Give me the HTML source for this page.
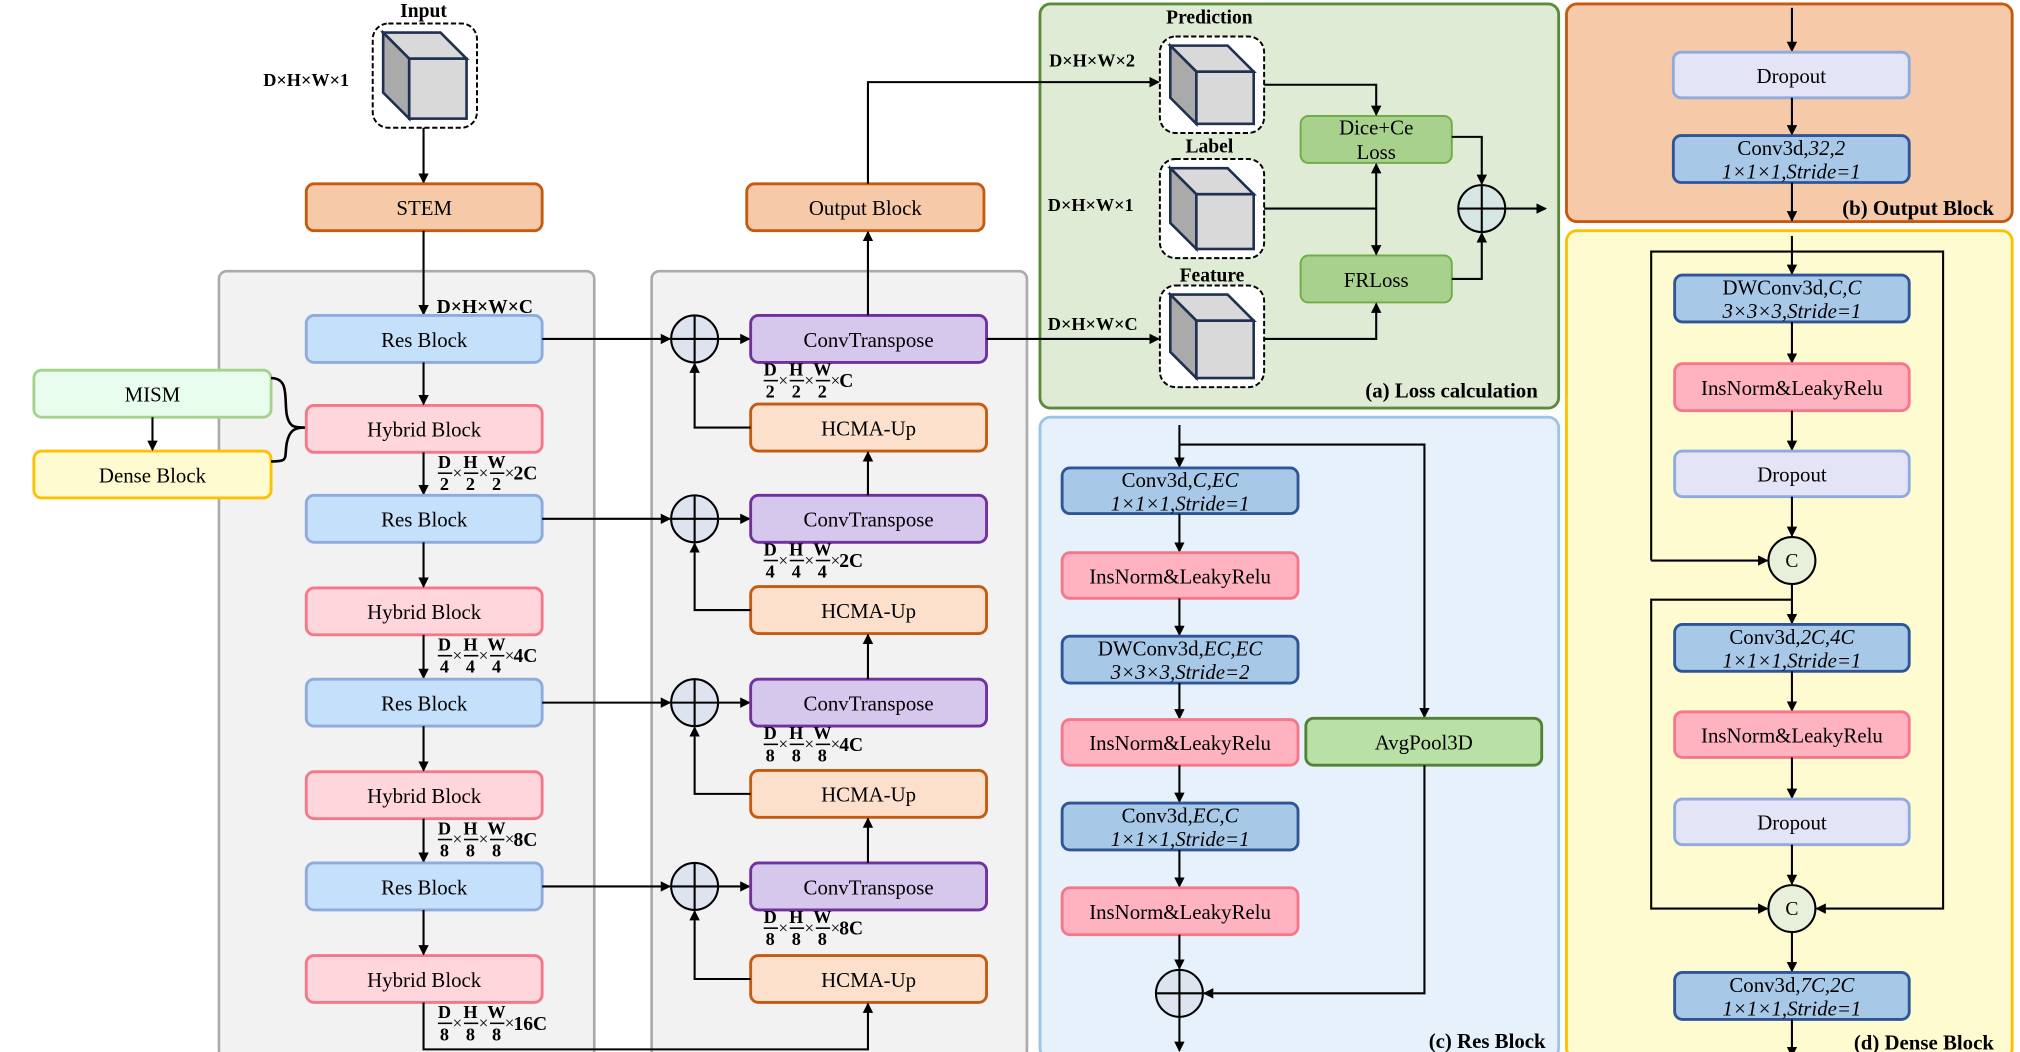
<!DOCTYPE html>
<html><head><meta charset="utf-8"><style>
html,body{margin:0;padding:0;background:#fff;}
svg{display:block;font-family:"Liberation Serif",serif;}
</style></head><body>
<svg id="s" width="2020" height="1052" viewBox="0 0 1550 807" preserveAspectRatio="none" xmlns="http://www.w3.org/2000/svg">
<defs><marker id="a" markerWidth="8" markerHeight="8" refX="7" refY="4" orient="auto" markerUnits="userSpaceOnUse"><path d="M0,0 L8,4 L0,8 z" fill="#000"/></marker></defs>
</svg>
<script>
var o='';
function box(x,y,w,h,f,s,t,t2,sw){o+=`<rect x="${x}" y="${y}" width="${w}" height="${h}" rx="6" fill="${f}" stroke="${s}" stroke-width="${sw||2.2}"/>`;
 if(t2){o+=`<text x="${x+w/2}" y="${y+h/2-3}" font-size="16" text-anchor="middle">${t}</text><text x="${x+w/2}" y="${y+h/2+15}" font-size="16" text-anchor="middle" font-style="italic">${t2}</text>`;}
 else if(t) o+=`<text x="${x+w/2}" y="${y+h/2+6}" font-size="16" text-anchor="middle">${t}</text>`;}
function ln(p,arr){o+=`<polyline points="${p}" fill="none" stroke="#000" stroke-width="1.6" ${arr?'marker-end="url(#a)"':''}/>`;}
function plus(x,y,r,f){o+=`<circle cx="${x}" cy="${y}" r="${r}" fill="${f||'#dde3ef'}" stroke="#000" stroke-width="1.6"/><line x1="${x-r}" y1="${y}" x2="${x+r}" y2="${y}" stroke="#000" stroke-width="1.6"/><line x1="${x}" y1="${y-r}" x2="${x}" y2="${y+r}" stroke="#000" stroke-width="1.6"/>`;}
function cc(x,y){o+=`<circle cx="${x}" cy="${y}" r="18" fill="#e8f0dc" stroke="#000" stroke-width="1.6"/><text x="${x}" y="${y+5}" font-size="15" text-anchor="middle">C</text>`;}
function cube(x,y,w,h){o+=`<rect x="${x}" y="${y}" width="${w}" height="${h}" rx="12" fill="#fff" stroke="#000" stroke-width="1.5" stroke-dasharray="4,2"/>`;
 var a=x+8,b=y+7,W=w-16,H=h-14;
 o+=`<polygon points="${a},${b} ${a+W-20},${b} ${a+W},${b+20} ${a+20},${b+20}" fill="#d9d9d9" stroke="#1f3050" stroke-width="2"/><polygon points="${a},${b} ${a+20},${b+20} ${a+20},${b+H} ${a},${b+H-20}" fill="#aaa" stroke="#1f3050" stroke-width="2"/><rect x="${a+20}" y="${b+20}" width="${W-20}" height="${H-20}" fill="#d9d9d9" stroke="#1f3050" stroke-width="2"/>`;}
function txt(x,y,t,sz,anc,extra){o+=`<text x="${x}" y="${y}" font-size="${sz||15}" font-weight="bold" text-anchor="${anc||'start'}" ${extra||''}>${t}</text>`;}
function frac(x,y,d,last){var xs=x;['D','H','W'].forEach(function(c,i){o+=`<text x="${xs+5}" y="${y-4}" font-size="14" font-weight="bold" text-anchor="middle">${c}</text><line x1="${xs}" y1="${y}" x2="${xs+11}" y2="${y}" stroke="#000" stroke-width="1.2"/><text x="${xs+5}" y="${y+13}" font-size="14" font-weight="bold" text-anchor="middle">${d}</text>`;xs+=12;o+=`<text x="${xs+3}" y="${y+4}" font-size="13" text-anchor="middle">×</text>`;xs+=8;});o+=`<text x="${xs-2}" y="${y+5}" font-size="15" font-weight="bold">${last}</text>`;}
o+=`<rect x="168" y="208" width="288" height="604" rx="6" fill="#f2f2f2" stroke="#aaa" stroke-width="2"/>`;
o+=`<rect x="500" y="208" width="288" height="604" rx="6" fill="#f2f2f2" stroke="#aaa" stroke-width="2"/>`;
o+=`<rect x="798" y="3" width="398" height="310" rx="8" fill="#dfebd4" stroke="#5b8a3a" stroke-width="2.2"/>`;
o+=`<rect x="798" y="320" width="398" height="492" rx="8" fill="#e6f1fc" stroke="#9dc3e6" stroke-width="2.2"/>`;
o+=`<rect x="1202" y="3" width="342" height="167" rx="8" fill="#f6c9a9" stroke="#c55a11" stroke-width="2.2"/>`;
o+=`<rect x="1202" y="177" width="342" height="635" rx="8" fill="#fefbd0" stroke="#ffc000" stroke-width="2.2"/>`;
txt(325,13,'Input',15,'middle');cube(286,18,80,80);txt(202,66,'D×H×W×1',14);
ln('325,98 325,140',1);
box(235,141,181,36,'#f6c9a9','#c55a11','STEM');
box(573,141,182,36,'#f6c9a9','#c55a11','Output Block');
ln('325,177 325,241',1);txt(335,240,'D×H×W×C',15);
var ry=[242,380,521,662],hy=[311,451,592,733],py=[260,398,539,680],hc=[310,450,591,733];
var fr=[['2','2C'],['4','4C'],['8','8C'],['8','16C']],fr2=[['2','C'],['4','2C'],['8','4C'],['8','8C']];
for(var i=0;i<4;i++){
 box(235,ry[i],181,36,'#c5e0fa','#8faadc','Res Block');
 box(235,hy[i],181,36,'#ffd6dc','#f4778a','Hybrid Block');
 ln(`325,${ry[i]+36} 325,${hy[i]-1}`,1);
 if(i<3)ln(`325,${hy[i]+36} 325,${ry[i+1]-1}`,1);
 frac(336,hy[i]+52,fr[i][0],fr[i][1]);
 ln(`416,${ry[i]+18} 514,${py[i]}`,1);
 plus(533,py[i],18);
 ln(`551,${py[i]} 575,${py[i]}`,1);
 box(576,py[i]-18,181,36,'#d6c8ec','#7030a0','ConvTranspose');
 box(576,hc[i],181,36,'#fde0cc','#c55a11','HCMA-Up');
 ln(`576,${hc[i]+18} 533,${hc[i]+18} 533,${py[i]+19}`,1);
 frac(586,py[i]+32,fr2[i][0],fr2[i][1]);
 if(i>0)ln(`666,${py[i]-18} 666,${hc[i-1]+37}`,1);
}
ln('325,769 325,805 666,805 666,770',1);
ln('666,242 666,178',1);
ln('666,141 666,63 889,63',1);
ln('757,260 889,260',1);
box(26,284,182,36,'#e8fdee','#a9d18e','MISM');
box(26,346,182,36,'#fefbd0','#ffc000','Dense Block');
ln('117,320 117,345',1);
o+=`<path d="M208,290 C222,290 218,305 220,318 C222,328 226,328 234,328 C226,328 222,330 220,340 C218,352 222,354 208,354" fill="none" stroke="#000" stroke-width="2"/>`;
txt(928,18,'Prediction',15,'middle');cube(890,28,80,74);
txt(928,117,'Label',15,'middle');cube(890,122,80,76);
txt(930,216,'Feature',15,'middle');cube(890,219,80,78);
txt(805,51,'D×H×W×2',14);txt(804,162,'D×H×W×1',14);txt(804,253,'D×H×W×C',14);
box(998,89,116,36,'#a9d18e','#70ad47','','',1.5);
o+=`<text x="1056" y="103" font-size="16" text-anchor="middle">Dice+Ce</text><text x="1056" y="122" font-size="16" text-anchor="middle">Loss</text>`;
box(998,196,116,36,'#a9d18e','#70ad47','FRLoss','',1.5);
ln('970,65 1056,65 1056,88',1);
ln('970,160 1056,160',0);ln('1056,160 1056,126',1);ln('1056,160 1056,195',1);
ln('970,260 1056,260 1056,233',1);
ln('1114,105 1137,105 1137,141',1);ln('1114,214 1137,214 1137,179',1);
plus(1137,160,18,'#d6e6e4');
ln('1155,160 1186,160',1);
txt(1180,305,'(a) Loss calculation',16,'end');
ln('1375,6 1375,39',1);
box(1284,40,181,35,'#e4e4f7','#8faadc','Dropout');
ln('1375,75 1375,103',1);
box(1284,104,181,36,'#a8c8e8','#2f5597','Conv3d,<tspan font-style="italic">32,2</tspan>','1×1×1,Stride=1');
ln('1375,140 1375,169',1);txt(1530,165,'(b) Output Block',16,'end');
ln('905,326 905,358',1);ln('905,341 1093,341 1093,550',1);
box(815,359,181,35,'#a8c8e8','#2f5597','Conv3d,<tspan font-style="italic">C,EC</tspan>','1×1×1,Stride=1');
ln('905,394 905,423',1);
box(815,424,181,35,'#ffb3c1','#f4778a','InsNorm&amp;LeakyRelu');
ln('905,459 905,487',1);
box(815,488,181,36,'#a8c8e8','#2f5597','DWConv3d,<tspan font-style="italic">EC,EC</tspan>','3×3×3,Stride=2');
ln('905,524 905,551',1);
box(815,552,181,35,'#ffb3c1','#f4778a','InsNorm&amp;LeakyRelu');
ln('905,587 905,615',1);
box(815,616,181,36,'#a8c8e8','#2f5597','Conv3d,<tspan font-style="italic">EC,C</tspan>','1×1×1,Stride=1');
ln('905,652 905,680',1);
box(815,681,181,36,'#ffb3c1','#f4778a','InsNorm&amp;LeakyRelu');
ln('905,717 905,743',1);
box(1002,551,181,36,'#b9e0a5','#548235','AvgPool3D');
ln('1093,587 1093,762 924,762',1);
plus(905,762,18);ln('905,780 905,806',1);
txt(1186,804,'(c) Res Block',16,'end');
ln('1375,181 1375,210',1);
ln('1267,430 1267,193 1491,193 1491,697 1394,697',1);
ln('1267,430 1356,430',1);
box(1285,211,180,36,'#a8c8e8','#2f5597','DWConv3d,<tspan font-style="italic">C,C</tspan>','3×3×3,Stride=1');
ln('1375,247 1375,278',1);
box(1285,279,180,36,'#ffb3c1','#f4778a','InsNorm&amp;LeakyRelu');
ln('1375,315 1375,345',1);
box(1285,346,180,35,'#e4e4f7','#8faadc','Dropout');
ln('1375,381 1375,411',1);
cc(1375,430);
ln('1375,448 1375,478',1);ln('1375,460 1267,460 1267,697 1356,697',1);
box(1285,479,180,36,'#a8c8e8','#2f5597','Conv3d,<tspan font-style="italic">2C,4C</tspan>','1×1×1,Stride=1');
ln('1375,515 1375,545',1);
box(1285,546,180,35,'#ffb3c1','#f4778a','InsNorm&amp;LeakyRelu');
ln('1375,581 1375,612',1);
box(1285,613,180,35,'#e4e4f7','#8faadc','Dropout');
ln('1375,648 1375,678',1);
cc(1375,697);
ln('1375,715 1375,745',1);
box(1285,746,180,36,'#a8c8e8','#2f5597','Conv3d,<tspan font-style="italic">7C,2C</tspan>','1×1×1,Stride=1');
ln('1375,782 1375,810',1);
txt(1530,805,'(d) Dense Block',16,'end');
document.getElementById('s').insertAdjacentHTML('beforeend',o);
</script>
</body></html>
